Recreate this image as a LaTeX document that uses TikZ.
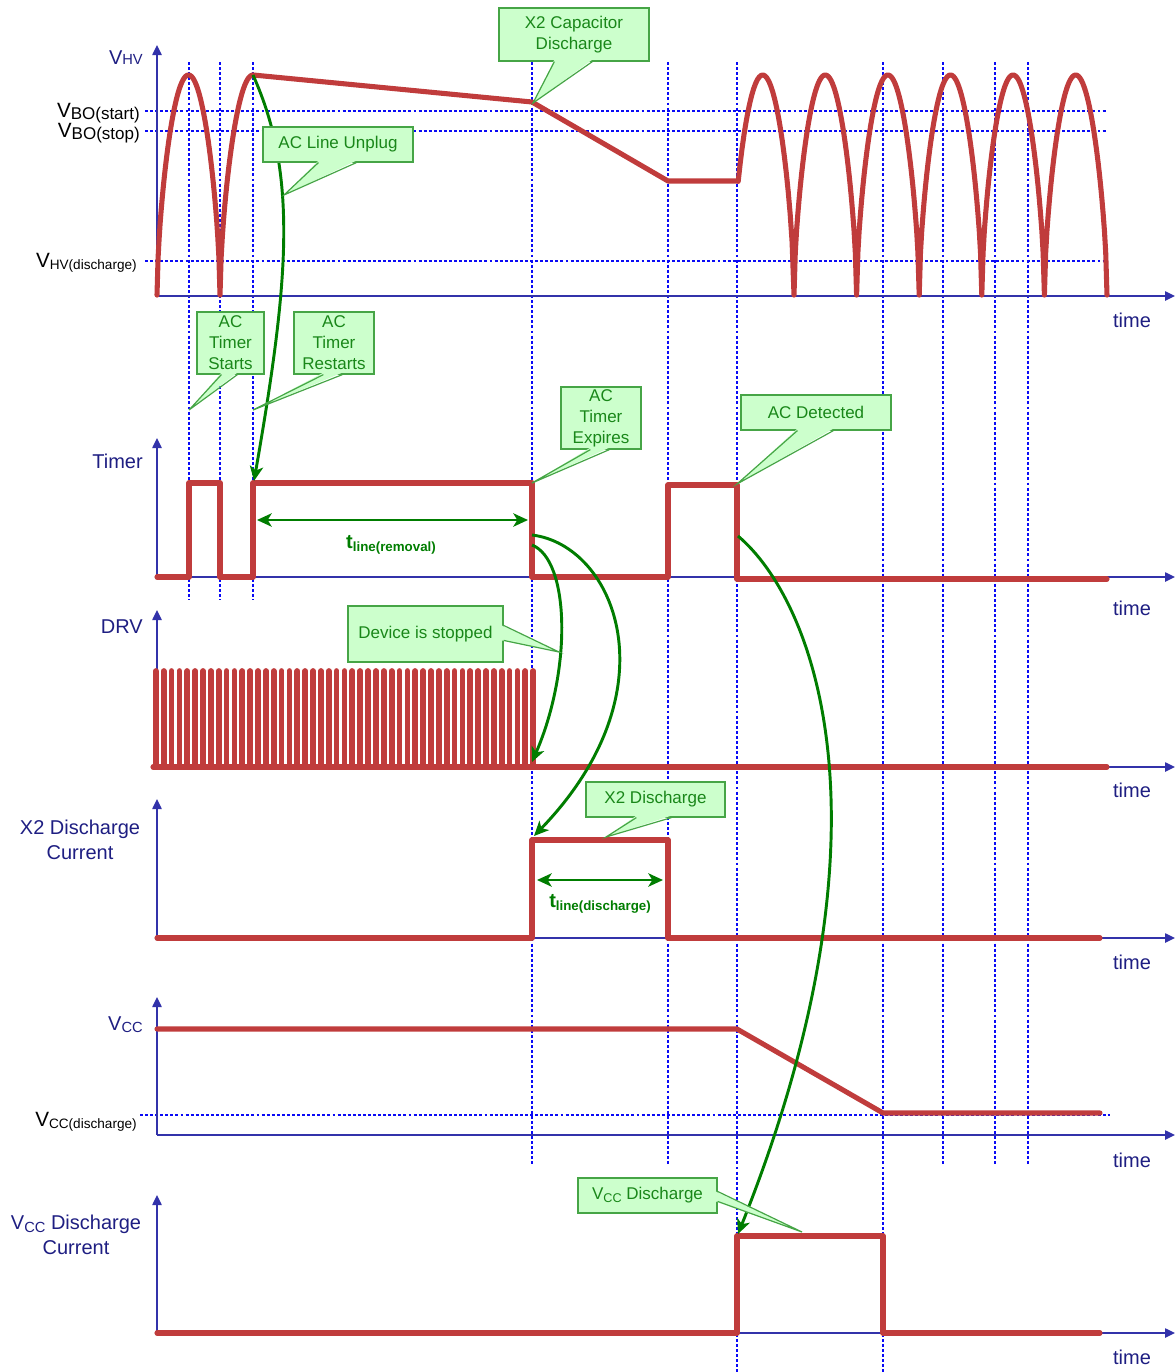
\documentclass[tikz,border=0pt]{standalone}
\usepackage{fontspec}
\setmainfont{Liberation Sans}
\usepackage{tikz}
\usetikzlibrary{arrows.meta, calc}
\definecolor{myred}{RGB}{192,60,60}
\definecolor{mynavy}{RGB}{30,30,130}
\definecolor{myaxis}{RGB}{50,50,170}
\definecolor{myblue}{RGB}{10,10,245}
\definecolor{mygreen}{RGB}{0,125,0}
\definecolor{txtgreen}{RGB}{25,135,25}
\definecolor{hdrgreen}{RGB}{204,255,204}
\definecolor{brdgreen}{RGB}{70,165,70}
\newcommand{\fsz}[2]{\fontsize{#1}{#2}\selectfont}
\newcommand{\lowsub}[2]{\raisebox{-2.2pt}{\fsz{#1}{#1}#2}}
\newcommand{\callptr}[4]{%
  \fill[callfill] ($(#1)+(#4)$) -- (#3) -- ($(#2)+(#4)$) -- cycle;
  \draw[callline] (#1) -- (#3) -- (#2);}
% rounded half wave of the rectified line voltage
\newcommand{\arch}[2]{296-221*max(abs(sin(#1)),0.0001)^0.6}
\tikzset{
  axisline/.style={-{Triangle[length=7.5pt,width=7pt]}, line width=1.1pt, color=myaxis},
  sig/.style={line width=3.8pt, color=myred, line join=round, line cap=round},
  pulse/.style={line width=4.3pt, color=myred, line cap=round},
  guide/.style={line width=1.6pt, color=myblue, dash pattern=on 2.2pt off 1.6pt},
  callbox/.style={rectangle, draw=brdgreen, fill=hdrgreen, line width=0.9pt,
    align=center, text=txtgreen, font=\fsz{12.75}{15.75}, inner sep=0pt},
  callfill/.style={fill=hdrgreen},
  callline/.style={draw=brdgreen, line width=0.9pt, line join=miter},
  flow/.style={-{Stealth[length=11pt,width=10pt,inset=3pt]}, line width=2.2pt, color=mygreen},
  span/.style={{Stealth[length=11pt,width=10pt,inset=3pt]}-{Stealth[length=11pt,width=10pt,inset=3pt]},
    line width=2.2pt, color=mygreen},
  axlabel/.style={text=mynavy, font=\fsz{15}{18.75}, inner sep=0pt},
  levlabel/.style={text=black, font=\fsz{15.5}{18}, inner sep=0pt, anchor=base east},
  timelabel/.style={text=mynavy, font=\fsz{15}{18}, inner sep=0pt},
  spanlabel/.style={text=mygreen, font=\fsz{15}{18}\bfseries, inner sep=0pt}
}
\begin{document}
\begin{tikzpicture}[x=0.75pt,y=-0.75pt]
  \useasboundingbox (0,0) rectangle (1176,1372);

  % guide lines
  \foreach \gx in {189,220,253} \draw[guide] (\gx,62) -- (\gx,600);
  \foreach \gx in {532,668,943,995,1028} \draw[guide] (\gx,62) -- (\gx,1165);
  \foreach \gx in {737,883} \draw[guide] (\gx,62) -- (\gx,1372);
  \foreach \gy in {111,131,261} \draw[guide] (145,\gy) -- (1107,\gy);
  \draw[guide] (140,1115) -- (1110,1115);

  % axes
  \foreach \ay/\ty in {296/45, 577/438, 767/610, 938/799, 1135/997, 1333/1195} {
    \draw[axisline] (157,\ay) -- (157,\ty);
    \draw[axisline] (157,\ay) -- (1175,\ay);
  }
  \foreach \ty [count=\k] in {320,608,790,962,1160,1357}
    \node[timelabel] (time\k) at (1132,\ty) {time};

  % V_HV
  \draw[sig] plot[domain=157:220, samples=60] (\x,{\arch{180*(\x-157)/63}{}})
    -- plot[domain=220:253, samples=30] (\x,{\arch{90*(\x-220)/33}{}})
    -- (532,102) -- (668,181) -- (738.2,181)
    -- plot[domain=738.2:794, samples=30] (\x,{\arch{180*(\x-731.4)/62.6}{}})
    -- plot[domain=794:856.6, samples=50] (\x,{\arch{180*(\x-794)/62.6}{}})
    -- plot[domain=856.6:919.2, samples=50] (\x,{\arch{180*(\x-856.6)/62.6}{}})
    -- plot[domain=919.2:981.8, samples=50] (\x,{\arch{180*(\x-919.2)/62.6}{}})
    -- plot[domain=981.8:1044.4, samples=50] (\x,{\arch{180*(\x-981.8)/62.6}{}})
    -- plot[domain=1044.4:1107, samples=50] (\x,{\arch{180*(\x-1044.4)/62.6}{}});

  % Timer
  \draw[sig] (157,577) -- (189,577) -- (189,483) -- (220,483) -- (220,577) -- (253,577)
    -- (253,483) -- (532,483) -- (532,577) -- (668,577) -- (668,485) -- (737,485)
    -- (737,579) -- (1107,579);

  % DRV
  \foreach \i in {0,...,48}
    \draw[pulse] ({155.85+7.86*\i},671) -- ({155.85+7.86*\i},767);
  \draw[sig] (153,767) -- (1107,767);

  % X2 current, Vcc, Vcc current
  \draw[sig] (157,938) -- (532,938) -- (532,840) -- (668,840) -- (668,938) -- (1100,938);
  \draw[sig] (157,1029) -- (737,1029) -- (883,1113) -- (1100,1113);
  \draw[sig] (157,1333) -- (737,1333) -- (737,1236) -- (883,1236) -- (883,1333) -- (1100,1333);

  % axis labels
  \node[axlabel, anchor=base east] (lbhv) at (143,64) {V{\fsz{11}{11}HV}};
  \node[levlabel] (lbstart) at (140,117) {V\lowsub{12.75}{BO(start)}};
  \node[levlabel] (lbstop) at (140,137) {V\lowsub{12.75}{BO(stop)}};
  \node[levlabel] (lbhvdis) at (137,267) {V\lowsub{10.2}{HV(discharge)}};
  \node[axlabel, anchor=east] (lbtimer) at (143,461) {Timer};
  \node[axlabel, anchor=east] (lbdrv) at (143,627) {DRV};
  \node[axlabel, align=center] (lbx2) at (80,840) {X2 Discharge\\Current};
  \node[axlabel, anchor=base east] (lbvcc) at (143,1030) {V\lowsub{11}{CC}};
  \node[levlabel] (lbvccdis) at (137,1126) {V\lowsub{10.2}{CC(discharge)}};
  \node[axlabel, align=center] (lbvcccur) at (76,1235) {V\lowsub{11}{CC} Discharge\\Current};

  % green links
  \coordinate (hvpeak) at (253,75);
  \coordinate (tmrrise) at (254,481);
  \coordinate (tmrfall1) at (532,535);
  \coordinate (tmrfall2) at (532,545);
  \coordinate (drvstop) at (532,762);
  \coordinate (x2rise) at (534,836);
  \coordinate (acdet) at (738,536);
  \coordinate (vccrise) at (738,1234);
  \draw[flow] (hvpeak) .. controls (298,175) and (289,280) .. (tmrrise);
  \draw[flow] (tmrfall2) .. controls (570,560) and (572,670) .. (drvstop);
  \draw[flow] (tmrfall1) .. controls (615,545) and (675,690) .. (x2rise);
  \draw[flow] (acdet) .. controls (816,602) and (900,829) .. (vccrise);

  \coordinate (rmvL) at (257,520);
  \coordinate (rmvR) at (528,520);
  \coordinate (dscL) at (537,880);
  \coordinate (dscR) at (663,880);
  \draw[span] (rmvL) -- (rmvR);
  \draw[span] (dscL) -- (dscR);
  \node[spanlabel] (trmv) at (391,545) {t\lowsub{10}{line(removal)}};
  \node[spanlabel] (tdsc) at (600,904) {t\lowsub{10}{line(discharge)}};

  % callouts
  \node[callbox, minimum width=112.5pt, minimum height=39.75pt] (capbox) at (574,34.5) {X2 Capacitor\\Discharge};
  \coordinate (capa) at ($(capbox.south west)+(56,0)$);
  \coordinate (capb) at ($(capbox.south west)+(94,0)$);
  \coordinate (captip) at (533,103);
  \callptr{capa}{capb}{captip}{0,-2}

  \node[callbox, minimum width=112.5pt, minimum height=26.25pt] (unplugbox) at (338,144.5) {AC Line Unplug};
  \coordinate (unpa) at ($(unplugbox.south west)+(56,0)$);
  \coordinate (unpb) at ($(unplugbox.south west)+(94,0)$);
  \coordinate (unptip) at (284,195);
  \callptr{unpa}{unpb}{unptip}{0,-2}

  \node[callbox, minimum width=50.25pt, minimum height=46.5pt] (startbox) at (230.5,343) {AC\\Timer\\Starts};
  \coordinate (sta) at ($(startbox.south west)+(25,0)$);
  \coordinate (stb) at ($(startbox.south west)+(41,0)$);
  \coordinate (sttip) at (189,410);
  \callptr{sta}{stb}{sttip}{0,-2}

  \node[callbox, minimum width=60pt, minimum height=46.5pt] (restartbox) at (334,343) {AC\\Timer\\Restarts};
  \coordinate (rsa) at ($(restartbox.south west)+(30,0)$);
  \coordinate (rsb) at ($(restartbox.south west)+(49,0)$);
  \coordinate (rstip) at (253,410);
  \callptr{rsa}{rsb}{rstip}{0,-2}

  \node[callbox, minimum width=60pt, minimum height=46.5pt] (expirebox) at (601,418) {AC\\Timer\\Expires};
  \coordinate (exa) at ($(expirebox.south west)+(30,0)$);
  \coordinate (exb) at ($(expirebox.south west)+(49,0)$);
  \coordinate (extip) at (532,483);
  \callptr{exa}{exb}{extip}{0,-2}

  \node[callbox, minimum width=112.5pt, minimum height=26.25pt] (detectbox) at (816,412.5) {AC Detected};
  \coordinate (dta) at ($(detectbox.south west)+(57,0)$);
  \coordinate (dtb) at ($(detectbox.south west)+(93,0)$);
  \coordinate (dttip) at (737,484);
  \callptr{dta}{dtb}{dttip}{0,-2}

  \node[callbox, minimum width=116.25pt, minimum height=42pt] (stopbox) at (425.5,634) {Device is stopped};
  \coordinate (spa) at ($(stopbox.north east)+(0,20)$);
  \coordinate (spb) at ($(stopbox.north east)+(0,35)$);
  \coordinate (sptip) at (559,652);
  \callptr{spa}{spb}{sptip}{-2,0}

  \node[callbox, minimum width=104.25pt, minimum height=26.25pt] (x2box) at (655.5,799.5) {X2 Discharge};
  \coordinate (x2a) at ($(x2box.south west)+(51,0)$);
  \coordinate (x2b) at ($(x2box.south west)+(86,0)$);
  \coordinate (x2tip) at (606,837);
  \callptr{x2a}{x2b}{x2tip}{0,-2}

  \node[callbox, minimum width=104.25pt, minimum height=26.25pt] (vccbox) at (647.5,1195.5) {V\lowsub{9.5}{CC} Discharge};
  \coordinate (vca) at ($(vccbox.north east)+(0,14)$);
  \coordinate (vcb) at ($(vccbox.north east)+(0,24)$);
  \coordinate (vctip) at (802,1232);
  \callptr{vca}{vcb}{vctip}{-2,0}
\end{tikzpicture}
\end{document}
